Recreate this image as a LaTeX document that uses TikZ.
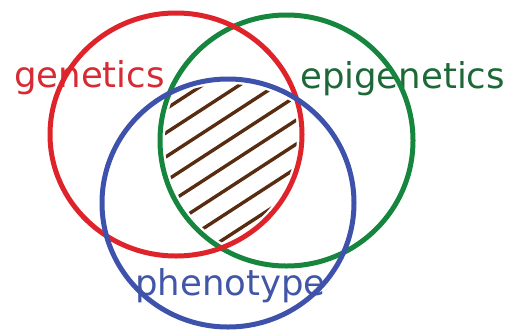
\documentclass[tikz,border=0pt]{standalone}
\usepackage{fontspec}
\setmainfont{DejaVu Sans}
\definecolor{cred}{RGB}{222,36,42}
\definecolor{cgreen}{RGB}{22,134,62}
\definecolor{cblue}{RGB}{62,82,172}
\definecolor{cbrown}{RGB}{88,44,16}
\definecolor{tred}{RGB}{214,42,52}
\definecolor{tgreen}{RGB}{28,104,54}
\definecolor{tblue}{RGB}{66,86,168}
\tikzset{
  ring/.style={line width=5pt},
  hatchline/.style={cbrown,line width=3.4pt,line cap=round},
  label/.style={inner sep=0pt,anchor=base west,font=\fontsize{35.5}{40}\selectfont}
}
\begin{document}
\begin{tikzpicture}[x=1pt,y=-1pt]
\useasboundingbox (0,0) rectangle (516,330);
% texts
\node[label,text=tred] (gen) at (14,87) {genetics};
\node[label,text=tgreen] (epi) at (300,88) {epigenetics};
\node[label,text=tblue] (phe) at (135,295) {phenotype};
% hatching of the common region
\begin{scope}
  \clip (176,134.5) ellipse [x radius=121,y radius=116.5];
  \clip (286.5,140.5) ellipse [x radius=121.5,y radius=120.5];
  \clip (228,203) ellipse [x radius=121,y radius=119];
  \foreach \k in {0,...,7}{
    \pgfmathsetmacro{\c}{181.6+20.1*\k}
    \pgfmathsetmacro{\xa}{0.545*\c-0.839*100}
    \pgfmathsetmacro{\ya}{0.839*\c+0.545*100}
    \pgfmathsetmacro{\xb}{0.545*\c+0.839*350}
    \pgfmathsetmacro{\yb}{0.839*\c-0.545*350}
    \draw[hatchline] (\xa,\ya) -- (\xb,\yb);
  }
\end{scope}
% circles
\draw[ring,cgreen] (286.5,140.5) ellipse [x radius=126.5,y radius=125.5];
\draw[ring,cred] (176,134.5) ellipse [x radius=126,y radius=121.5];
\draw[ring,cblue] (228,203) ellipse [x radius=126,y radius=124];
\end{tikzpicture}
\end{document}
